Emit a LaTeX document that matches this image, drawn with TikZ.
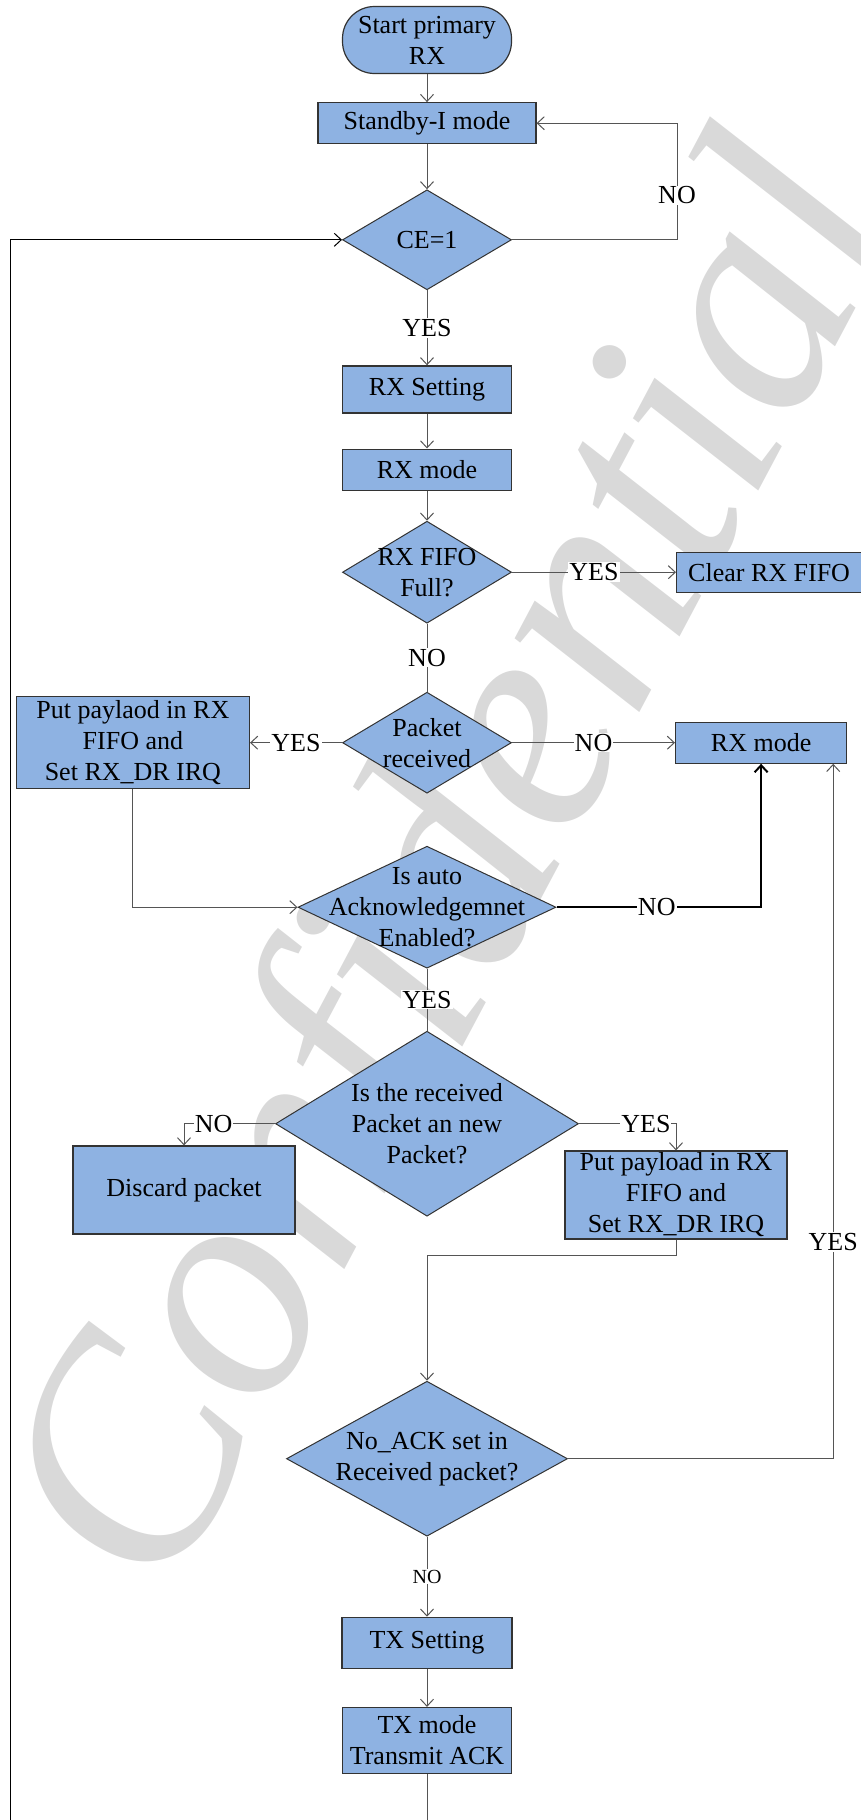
\documentclass[tikz,border=0pt]{standalone}
\usepackage{fontspec}
\setmainfont{Liberation Serif}
\usetikzlibrary{arrows.meta}
\usetikzlibrary{positioning}
\usetikzlibrary{shapes.geometric}

\definecolor{boxblue}{RGB}{142,178,226}
\definecolor{wmgray}{RGB}{217,217,217}
\definecolor{linegray}{RGB}{85,85,85}

\tikzset{
  every node/.style={font=\fontsize{26}{31}\selectfont},
  block/.style={draw=black!80, line width=1.2pt, fill=boxblue, align=center, inner sep=0pt},
  decision/.style={diamond, draw=black!80, line width=1pt, fill=boxblue, inner sep=0pt,
    label={[align=center]center:#1}},
  lbl/.style={fill=white, inner sep=1pt},
  link/.style={draw=linegray, line width=1pt},
  flow/.style={link, ->},
}

\begin{document}
\begin{tikzpicture}[x=1pt, y=1pt, >={Straight Barb[length=7pt, width=13pt]}]
      \useasboundingbox (0,0) rectangle (861,-1820);
      \node[rotate=62, text=wmgray, font=\fontsize{315}{315}\selectfont\itshape] (watermark) at (468,-872) {Confidential};

      % main column
      \node[block, rounded corners=32pt, minimum width=169pt, minimum height=67pt] (start) at (427,-40) {Start primary\\RX};
      \node[block, minimum width=218pt, minimum height=41pt, below=28pt of start] (standby) {Standby-I mode};
      \node[decision={CE=1}, minimum width=169pt, minimum height=100pt, below=45pt of standby] (ce) {};
      \node[block, minimum width=169pt, minimum height=47pt, below=75pt of ce] (rxset) {RX Setting};
      \node[block, minimum width=169pt, minimum height=41pt, below=35pt of rxset] (rxmode) {RX mode};
      \node[decision={RX FIFO\\Full?}, minimum width=169pt, minimum height=102pt, below=30pt of rxmode] (fifo) {};
      \node[block, minimum width=185pt, minimum height=40pt, right=164pt of fifo] (clear) {Clear RX FIFO};
      \node[decision={Packet\\received}, minimum width=169pt, minimum height=101pt, below=68pt of fifo] (pkt) {};
      \node[block, minimum width=233pt, minimum height=92pt, left=92pt of pkt] (put1) {Put paylaod in RX\\FIFO and\\Set RX\_DR IRQ};
      \node[block, minimum width=171pt, minimum height=41pt, right=163pt of pkt] (rxm2) {RX mode};
      \node[decision={Is auto\\Acknowledgemnet\\Enabled?}, minimum width=258pt, minimum height=122pt, below=52pt of pkt] (ack) {};
      \node[decision={Is the received\\Packet an new\\Packet?}, minimum width=303pt, minimum height=185pt, below=62pt of ack] (newpkt) {};
      \node[block, minimum width=222pt, minimum height=88pt] (discard) at (184,-1190) {Discard packet};
      \node[block, minimum width=222pt, minimum height=88pt] (put2) at (676,-1195) {Put payload in RX\\FIFO and\\Set RX\_DR IRQ};
      \node[decision={No\_ACK set in\\Received packet?}, minimum width=281pt, minimum height=155pt, below=164pt of newpkt] (noack) {};
      \node[block, minimum width=170pt, minimum height=51pt, below=80pt of noack] (txset) {TX Setting};
      \node[block, minimum width=169pt, minimum height=66pt, below=38pt of txset] (txmode) {TX mode\\Transmit ACK};
      \coordinate (tail) at (427,-1822);
      \coordinate (loopstart) at (10,-1822);

      % connectors
      \draw[flow] (start) -- (standby);
      \draw[flow] (standby) -- (ce);
      \draw[flow] (ce.east) -- ++(165,0) |- node[lbl, pos=0.19] {NO} (standby.east);
      \draw[flow] (ce) -- node[lbl] {YES} (rxset);
      \draw[flow] (rxset) -- (rxmode);
      \draw[flow] (rxmode) -- (fifo);
      \draw[flow] (fifo) -- node[lbl] {YES} (clear);
      \draw[link] (fifo) -- node[lbl] {NO} (pkt);
      \draw[flow] (pkt) -- node[lbl] {YES} (put1);
      \draw[flow] (pkt) -- node[lbl] {NO} (rxm2);
      \draw[flow] (put1) |- (ack);
      \draw[flow, draw=black, line width=2pt] (ack) -| node[lbl, pos=0.245] {NO} (rxm2);
      \draw[link] (ack) -- node[lbl] {YES} (newpkt);
      \draw[flow] (newpkt) -| node[lbl, pos=0.337] {NO} (discard);
      \draw[flow] (newpkt) -| node[lbl, pos=0.345] {YES} (put2);
      \draw[flow] (put2) -- ++(0,-60) -| (noack);
      \draw[flow] (noack) -| node[lbl, pos=0.656] {YES} ([xshift=-14pt]rxm2.south east);
      \draw[flow] (noack) -- node[lbl, font=\fontsize{20}{24}\selectfont] {NO} (txset);
      \draw[flow] (txset) -- (txmode);
      \draw[link] (txmode) -- (tail);
      \draw[flow, draw=black] (loopstart) |- (ce.west);
    \end{tikzpicture}
\end{document}
